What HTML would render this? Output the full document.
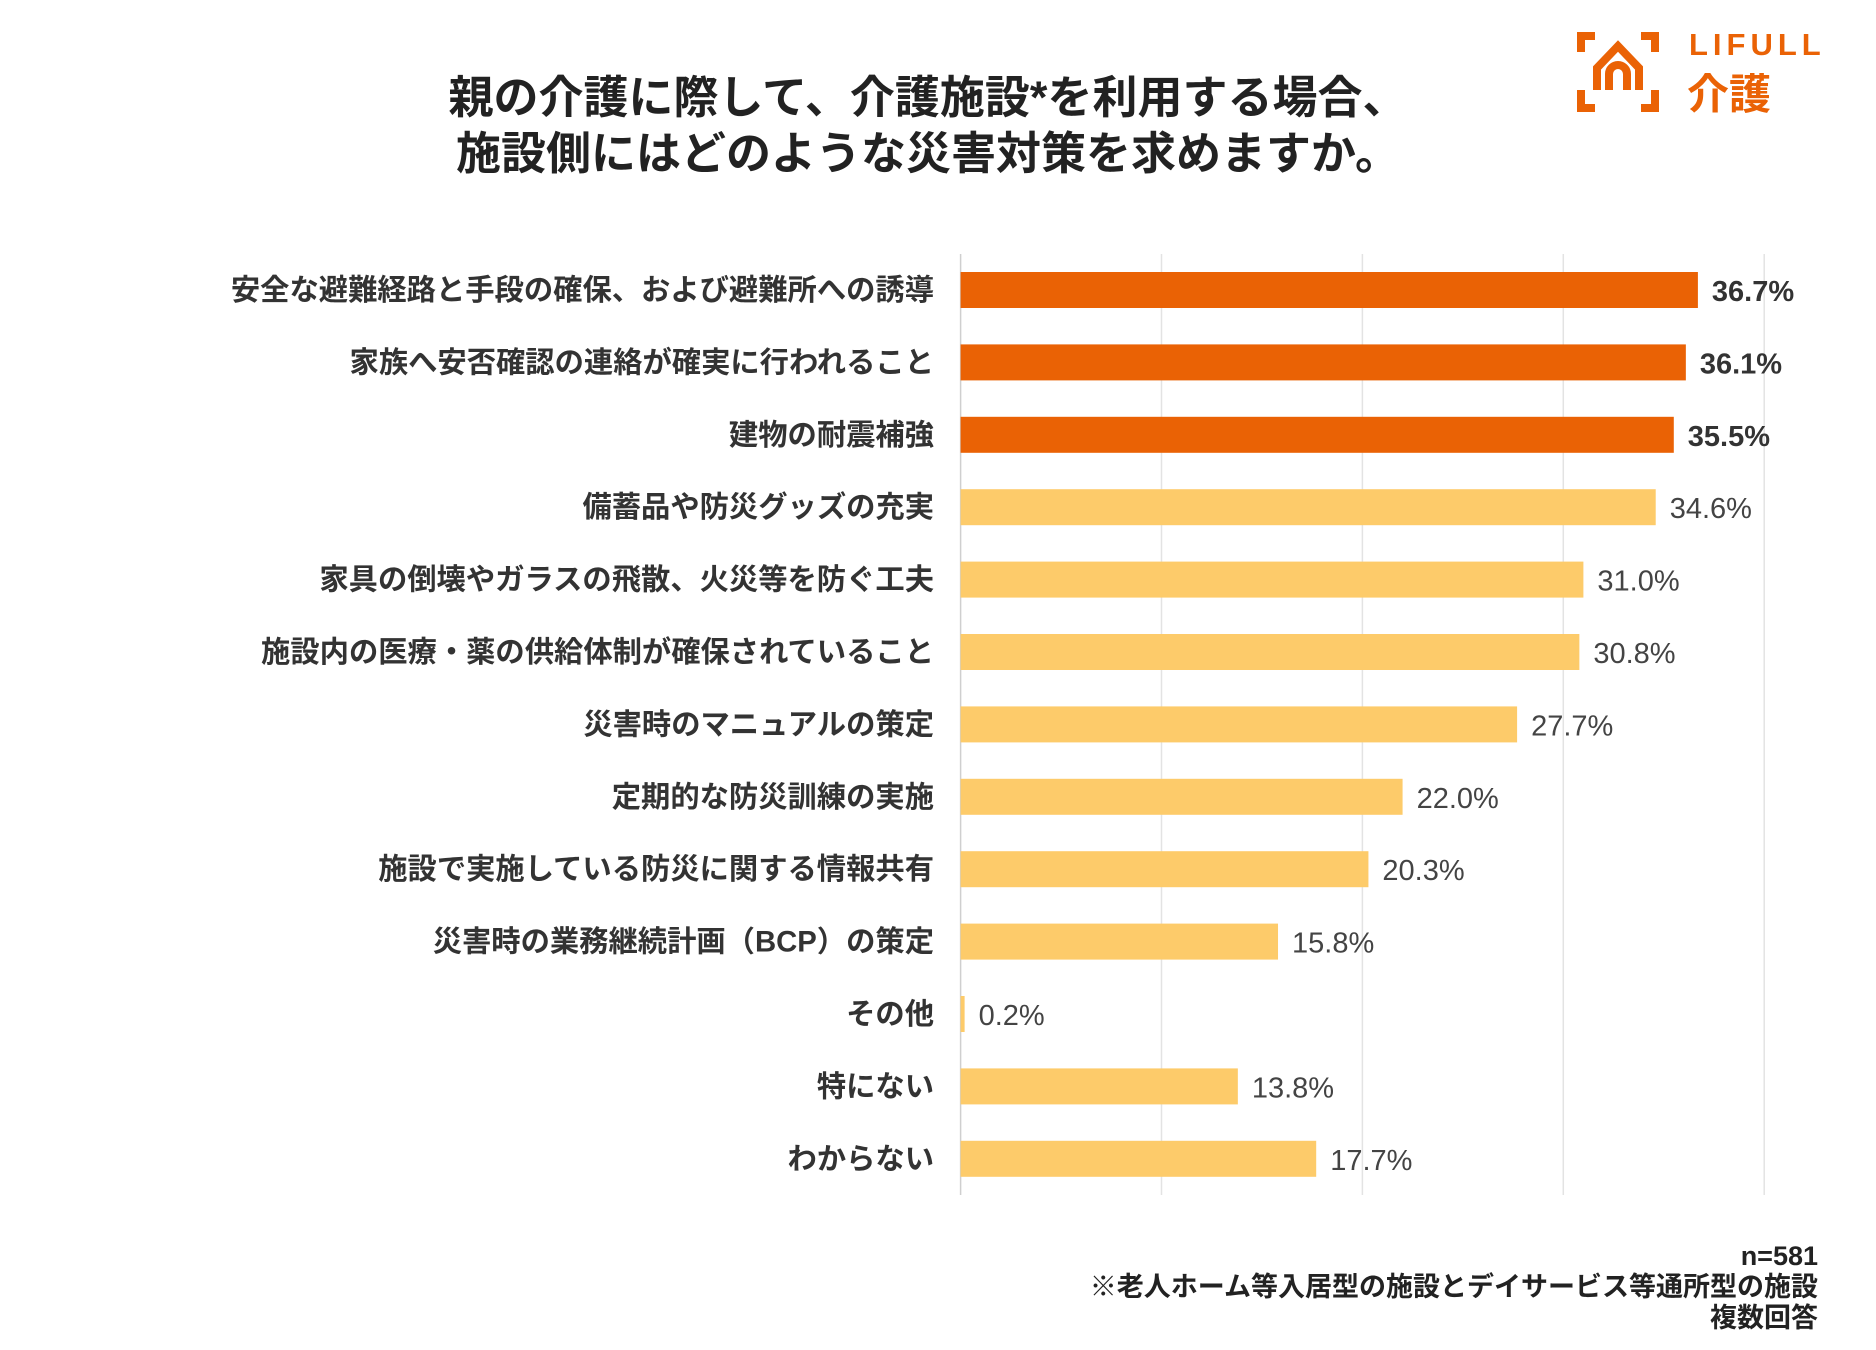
<!DOCTYPE html>
<html><head><meta charset="utf-8"><style>
body{margin:0;width:1876px;height:1350px;background:#fff;overflow:hidden;position:relative;font-family:"Liberation Sans","Noto Sans CJK JP",sans-serif;color:#333}
.t{position:absolute;white-space:nowrap}
</style></head><body>
<div class="t" style="left:0;width:1856px;top:70px;text-align:center;font-size:45px;font-weight:bold;line-height:56px;color:#222">親の介護に際して、介護施設*を利用する場合、<br>施設側にはどのような災害対策を求めますか。</div>
<svg style="position:absolute;left:1575px;top:28px" width="290" height="90">
<g fill="none" stroke="#EA6205" stroke-width="8">
<path d="M20 8 H6 V24 M66 8 H80 V24 M6 62 V80 H20 M80 62 V80 H66"/>
<path d="M22 62 V40 L43 18 L64 40 V62 M34 62 V46 A9 9 0 0 1 52 46 V62"/>
</g>
<text x="114" y="27" font-size="31" font-weight="bold" fill="#EA6205" letter-spacing="5" font-family="Liberation Sans, sans-serif">LIFULL</text>
<text x="112" y="81" font-size="42" font-weight="bold" fill="#EA6205" font-family="Noto Sans CJK JP, sans-serif">介護</text>
</svg>
<svg id="chart" style="position:absolute;left:0;top:0" width="1876" height="1350"></svg>
<div class="t" style="right:58px;top:1241px;text-align:right;font-size:27px;font-weight:bold;line-height:31px;color:#222">n=581<br>※老人ホーム等入居型の施設とデイサービス等通所型の施設<br>複数回答</div>
<script>
const categories=["安全な避難経路と手段の確保、および避難所への誘導","家族へ安否確認の連絡が確実に行われること","建物の耐震補強","備蓄品や防災グッズの充実","家具の倒壊やガラスの飛散、火災等を防ぐ工夫","施設内の医療・薬の供給体制が確保されていること","災害時のマニュアルの策定","定期的な防災訓練の実施","施設で実施している防災に関する情報共有","災害時の業務継続計画（BCP）の策定","その他","特にない","わからない"];
const values=[36.7,36.1,35.5,34.6,31.0,30.8,27.7,22.0,20.3,15.8,0.2,13.8,17.7];
const highlightCount=3;
const gridTicks=[0,10,20,30,40];
const NS="http://www.w3.org/2000/svg";
const svg=document.getElementById('chart');
const x0=960.6,pxPer=20.09,top0=272,pitch=72.4,bh=36;
const xs=v=>x0+v*pxPer;
const ys=i=>top0+i*pitch;
function mk(t,a){const e=document.createElementNS(NS,t);for(const k in a)e.setAttribute(k,a[k]);svg.appendChild(e);return e;}
gridTicks.forEach(t=>{
const l=mk('line',{x1:xs(t),x2:xs(t),y1:254,y2:1195,stroke:t===0?'#cfcfcf':'#e3e3e3','stroke-width':1.5});


});
categories.forEach((c,i)=>{
const hi=i<highlightCount;
const y=ys(i);
const r=mk('rect',{x:x0,y:y,width:Math.max(3,xs(values[i])-x0),height:bh,fill:hi?'#EA6205':'#FDCB6A'});


const lb=mk('text',{x:934,y:y+bh/2+10,'text-anchor':'end','font-size':29.3,'font-weight':'bold',fill:'#333','font-family':'Liberation Sans, Noto Sans CJK JP, sans-serif'});
lb.textContent=c;


const vl=mk('text',{x:xs(values[i])+14,y:y+bh/2+11,'font-size':29,'font-weight':hi?'bold':'normal',fill:hi?'#333':'#444','font-family':'Liberation Sans, sans-serif'});
vl.textContent=values[i].toFixed(1)+'%';


});
</script>
</body></html>
